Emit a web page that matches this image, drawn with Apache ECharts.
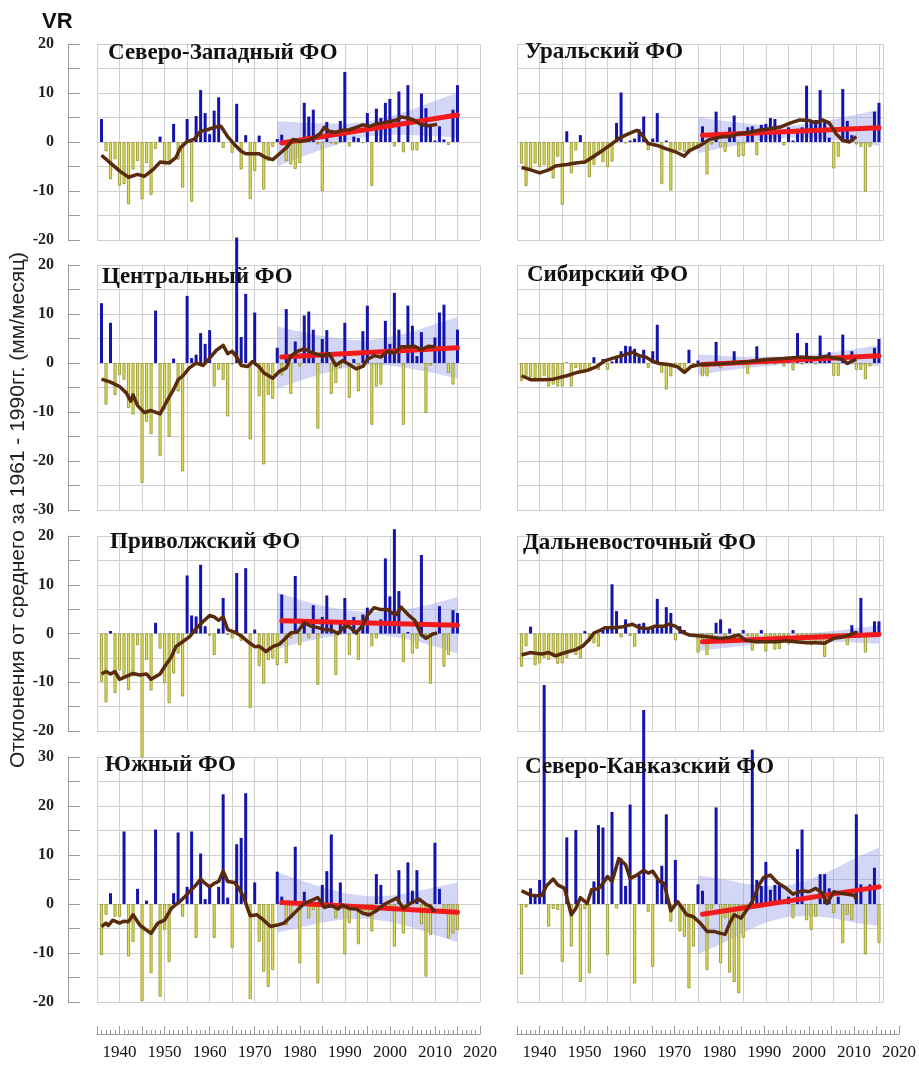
<!DOCTYPE html>
<html><head><meta charset="utf-8">
<script src="https://cdn.jsdelivr.net/npm/echarts@6/dist/echarts.min.js"></script>
<style>html,body{margin:0;padding:0;background:#fff}#c{width:919px;height:1068px}</style>
</head><body><div id="c"></div>
<script>
// Years 1936..2015
const years = [];
for (let y = 1936; y <= 2015; y++) years.push(y);
const bandYears = [1975, 1980, 1985, 1990, 1995, 2000, 2005, 2010, 2015];
const trendYears = [1976, 2015];

// ---- Северо-Западный ФО
const nwVals = [4.7,-1.9,-7.6,-3.5,-8.9,-8.6,-12.7,-5.6,-3.9,-11.7,-4.3,-10.8,-1.4,1.1,-4.6,-3.9,3.7,-3.6,-9.3,4.7,-12.2,5.3,10.6,5.9,1.6,6.4,9.1,-1.2,0,-2.2,7.8,-5.6,1.4,-11.6,-5.9,1.3,-9.7,-3.9,-1.0,0.6,1.5,-3.9,-4.6,-5.5,-4.3,8.0,5.2,6.6,-0.5,-10.0,4.1,-0.3,-0.5,4.3,14.3,-0.9,1.1,0.8,-0.2,5.9,-9.0,6.8,4.9,8.0,8.8,-0.9,10.3,-2.1,11.6,-1.7,-1.7,9.9,6.9,3.2,0.3,3.2,0.5,-0.6,6.6,11.6];
const nwMA = [[1936,-2.7],[1938,-4.3],[1940,-5.9],[1942,-7.2],[1944,-6.6],[1945.5,-7],[1947.5,-5.6],[1949,-4.1],[1951,-4.3],[1952.5,-3.2],[1953.5,-1.2],[1955,0.1],[1956.5,0.5],[1958,2.2],[1959.5,2.5],[1961,3.0],[1962.5,3.2],[1964,1.1],[1965.5,-0.5],[1967,-1.9],[1968,-2.4],[1970,-2.4],[1971,-2.4],[1972.5,-3.2],[1974,-3.6],[1975.5,-2.4],[1977,-1.2],[1978.5,0.5],[1980,0.1],[1981.5,0.3],[1983,0.8],[1984.5,1.7],[1985.5,3.0],[1986.5,2.2],[1988,2.0],[1989.5,2.4],[1991,2.5],[1992.5,3.0],[1994,3.5],[1995.5,3.2],[1997,3.7],[1998.5,3.9],[2000,4.2],[2001.5,4.5],[2002.5,5.1],[2004,4.9],[2005.5,4.4],[2007,3.5],[2008.5,3.3],[2010.5,3.6]];
const nwTrend = [-0.2, 5.5];
const nwBandLo = [-5.0,-3.2,-1.5,0.0,1.1,1.5,1.4,1.2,0.9];
const nwBandHi = [4.3,4.0,3.8,3.7,4.1,5.2,6.7,8.4,10.1];

// ---- Уральский ФО
const urVals = [-4.4,-9,-5.4,-4.4,-5.1,-4.7,-5.7,-7.4,-3,-12.8,2.2,-6.4,-1.7,1.4,-4.4,-7.2,-4.7,-2.7,-4.1,-5.1,-4.0,3.9,10.1,-0.3,0.3,0.7,2.6,5.2,-1.7,0.7,5.9,-8.6,0.3,-9.9,-2.0,-1.7,-2.0,-2.4,-1.0,-1.4,3.2,-6.6,-0.5,6.2,-1.0,-2.0,3.0,5.4,-3.0,-2.8,3.0,3.2,-2.7,3.5,3.7,4.9,4.7,2.4,-0.7,3.0,0.3,2.7,3.0,11.5,4.4,4.5,10.6,4.4,0.9,-5.4,-3.0,10.8,4.3,1.4,-0.5,-1.0,-10.1,-1.0,6.2,8.0];
const urMA = [[1936,-5.2],[1938,-5.7],[1940,-6.3],[1942,-5.7],[1943.5,-4.9],[1946,-4.6],[1948,-4.3],[1950,-4.1],[1951.5,-3.2],[1953.5,-2],[1955.5,-0.7],[1957.5,0.7],[1959,1.4],[1960.5,2.0],[1961.5,2.4],[1962.5,1.6],[1964,-0.3],[1966,-0.7],[1968,-1.4],[1970,-2.0],[1972,-2.9],[1973,-1.8],[1975.5,-0.7],[1977.5,0.5],[1980,1.0],[1982,1.1],[1984,1.7],[1986.5,2.0],[1988.5,2.4],[1991,2.7],[1993,3.0],[1995.5,3.9],[1997.5,4.5],[1999.5,4.4],[2001,3.9],[2002.5,4.5],[2004,3.9],[2005.5,1.7],[2007,0.3],[2008.5,0],[2010,1.1]];
const urTrend = [1.4, 2.9];
const urBandLo = [-2.3,-1.3,-0.4,0.5,0.9,0.8,0.4,-0.2,-0.8];
const urBandHi = [5.1,4.4,3.9,3.4,3.3,3.8,4.6,5.6,6.6];

// ---- Центральный ФО
const ceVals = [12.2,-8.5,8.2,-6.5,-2.4,-3.4,-9.2,-10.5,-8.5,-24.5,-12,-14.5,10.7,-19,-9.5,-15.1,0.9,-5.8,-22.1,13.7,1.0,1.7,6.1,3.9,6.7,-4.8,-1.4,-3.4,-10.9,-0.3,25.6,5.3,14.1,-15.6,10.3,-6.8,-20.7,-6.5,-7.3,3.1,-2.5,11.0,-6.3,4.4,-0.7,9.7,10.5,6.8,-13.4,4.9,6.7,-6.3,-4.1,-1.0,8.2,-7.1,0.8,-5.8,6.5,11.7,-12.6,-4.8,-4.4,8.6,3.9,14.3,6.8,-12.6,11.7,7.6,1.4,6.3,-10.2,-0.5,5.2,10.3,11.9,-2.0,-4.4,6.8];
const ceMA = [[1936,-3.3],[1938,-3.9],[1940,-4.8],[1941.5,-6.1],[1942.5,-7.8],[1943,-6.5],[1944,-8.7],[1945.5,-10.1],[1947,-9.7],[1949,-10.4],[1950.5,-7.8],[1952,-5.4],[1953,-3.4],[1954,-2.7],[1955.5,-1],[1957,0],[1958.5,-0.5],[1960,1],[1961.5,2.6],[1963,3.6],[1964,1.9],[1965,2.4],[1966,1.2],[1967,-0.5],[1968.5,-0.7],[1969.5,0.3],[1971,-0.8],[1972,-2],[1974,-3.1],[1975.5,-1.7],[1977,-1],[1978,1.4],[1979.5,2.4],[1981,2.9],[1982.5,2.2],[1984,1.7],[1985.5,1.5],[1986.5,1.9],[1988,-0.5],[1989.5,0.5],[1991,-0.3],[1992.5,-1.2],[1994,-0.7],[1995,0.7],[1996.5,1.5],[1998,1.2],[1999.5,2.4],[2001,2],[2002.5,3.3],[2004,3.3],[2005.5,3.4],[2007,2.7],[2008.5,3.4],[2010,3.3]];
const ceTrend = [1.2, 3.1];
const ceBandLo = [-5.2,-3.6,-2.2,-1.0,-0.4,-0.5,-1.2,-2.1,-3.2];
const ceBandHi = [7.5,6.4,5.5,4.8,4.6,5.3,6.4,7.9,9.4];

// ---- Сибирский ФО
const siVals = [-3.7,-2.6,-2.9,-3.1,-3.4,-2.7,-4.8,-4.4,-4.8,-4.8,0.1,-4.8,-1.0,-1.9,-2.0,-1.7,1.2,-1.4,0.8,-1.4,0.3,1.0,2.4,3.5,3.4,2.9,1.2,2.7,-1.0,2.4,7.8,-2.0,-5.4,-2.7,-0.5,-0.8,-1.5,2.7,-0.5,0.5,-2.7,-2.7,-0.5,4.3,-1.0,-0.3,-0.5,2.4,-0.3,-0.5,-2.2,0.3,3.4,0.2,-0.3,0.3,-0.3,0.4,-0.7,0.3,-1.5,6.1,-0.3,4.1,0.5,-0.3,5.6,0.4,2.2,-2.6,-2.6,5.8,-0.4,2.4,-1.4,-1.4,-3.3,-0.7,3.1,4.9];
const siMA = [[1936,-2.6],[1938,-3.4],[1940.5,-3.4],[1943,-3.3],[1946,-2.6],[1948,-2],[1950.5,-1.5],[1952.5,-0.8],[1954.5,0.5],[1957,1.2],[1959,1.7],[1960.5,2.2],[1962,1.5],[1963.5,1.2],[1965,0.3],[1966.5,-0.1],[1968.5,-0.3],[1970.5,-0.8],[1972,-1.9],[1973.5,-0.7],[1975.5,-0.3],[1979,-0.2],[1982.5,0],[1986.5,0.3],[1990,0.7],[1994,0.9],[1997.5,1.2],[2001,1],[2003.5,1.4],[2005,1],[2007,0.7],[2008,-0.1],[2010,0.8]];
const siTrend = [-0.3, 1.5];
const siBandLo = [-2.5,-1.7,-1.1,-0.6,-0.2,-0.1,-0.2,-0.3,-0.6];
const siBandHi = [1.8,1.5,1.3,1.3,1.4,1.7,2.2,2.9,3.6];

// ---- Приволжский ФО
const pvVals = [-9.9,-14.1,0.5,-12.2,-7.5,-9.2,-11.6,-8.8,-2.4,-25.4,-5.4,-11.7,2.2,-3.1,-10.2,-14.3,-8.2,-4.1,-12.9,11.9,3.7,3.5,14.1,1.5,-0.5,-4.4,1.0,7.3,-0.3,-1.0,12.4,-1.5,13.4,-15.3,0.8,-6.7,-10.3,-5.4,-5.1,-6.5,8.0,-6.1,-1.0,11.8,-2.4,2.7,-1.0,5.8,-10.5,3.4,7.8,2.7,-8.5,2.5,7.3,-4.4,3.4,-5.4,3.9,5.3,-2.6,-1.0,2.9,15.4,7.6,21.4,8.7,-5.8,0.3,-4.1,-3.1,16.1,-0.5,-10.3,-0.3,5.6,-6.8,-4.4,4.8,4.2];
const pvMA = [[1936,-8.3],[1937,-7.8],[1938,-8.3],[1939,-7.8],[1940,-9.4],[1941.5,-8.8],[1943,-8.2],[1944.5,-8.5],[1946,-8.3],[1947,-9.4],[1949,-8.3],[1950,-6.8],[1951.5,-4.8],[1952.5,-2.7],[1954,-1.7],[1955.5,-0.7],[1957,1],[1958.5,2.4],[1960,3.7],[1961,3.4],[1962,2.7],[1963,3.4],[1964,0.8],[1965.5,0.3],[1967,-0.5],[1968.5,-1.7],[1970,-2.7],[1971,-2.6],[1972.5,-3.7],[1974,-2.7],[1975.5,-2.2],[1977,-0.8],[1978,0.1],[1979.5,0.3],[1981,2.2],[1982.5,1.5],[1984,1.2],[1985.5,0.8],[1987,0.7],[1988.5,0],[1990,1.5],[1991,1.4],[1992.5,0.1],[1994,1.7],[1995,3.7],[1996.5,5.3],[1998,4.9],[1999.5,4.9],[2000.5,4.2],[2001.5,3.9],[2002.5,5.4],[2004,3.9],[2005.5,2.7],[2007,-0.3],[2008,-1],[2009.5,-0.1],[2010.5,0.1]];
const pvTrend = [2.6, 1.7];
const pvBandLo = [-3.2,-1.9,-0.9,-0.2,0.0,-0.5,-1.4,-2.6,-4.1];
const pvBandHi = [8.4,6.9,5.7,4.8,4.4,4.6,5.2,6.2,7.5];

// ---- Дальневосточный ФО
const feVals = [-6.8,-2.6,1.4,-6.5,-6.1,-5.0,-5.4,-4.8,-6.2,-6.1,-5.0,-3.5,-4.4,-5.1,0.5,-1.7,-2.0,-2.7,1.0,1.4,10.1,4.6,-0.8,2.9,-0.5,-2.7,2.0,2.2,1.0,1.4,7.1,1.4,5.4,4.2,-1.4,1.5,0.7,-0.3,-0.5,-3.9,-2.0,-4.4,-1.4,2.2,2.9,-2.0,1.0,-1.0,-1.4,0.7,-0.5,-3.5,-1.5,0.7,-3.7,-1.5,-3.3,-3.2,-0.5,-2.2,0.7,-2.0,-1.4,-1.4,-2.4,-1.5,-2.0,-4.8,-0.5,-0.7,-0.7,-1.0,-2.4,1.7,0.5,7.3,-3.9,-0.5,2.5,2.5];
const feMA = [[1936,-4.4],[1938,-3.9],[1939.5,-4.1],[1940.5,-4.2],[1942,-3.9],[1943.5,-4.6],[1945,-4.1],[1946.5,-3.7],[1948,-3.3],[1949.5,-2.6],[1951,-1.2],[1952,0.1],[1953.5,0.7],[1954.5,1.2],[1956.5,1.2],[1958.5,1.4],[1960.5,1.9],[1962,1.2],[1964,1],[1965.5,1.5],[1967.5,1.5],[1968.5,1.9],[1970,1.5],[1971.5,0.3],[1973,-0.3],[1975.5,-0.5],[1977.5,-0.7],[1980,-1],[1982,-0.8],[1984,-0.3],[1985.5,-1.4],[1988,-1.7],[1990,-1.7],[1992.5,-1.7],[1994.5,-1.5],[1996.5,-1.7],[1999,-1.9],[2001,-1.9],[2003,-2],[2005,-1],[2007,-0.7],[2008.5,-0.3],[2010,0.3]];
const feTrend = [-1.7, -0.2];
const feBandLo = [-3.6,-3.1,-2.5,-2.0,-1.7,-1.6,-1.7,-1.9,-2.1];
const feBandHi = [0.2,-0.1,-0.2,-0.3,-0.3,0.1,0.5,1.1,1.7];

// ---- Южный ФО
const soVals = [-10.4,-2.2,2.2,-2.6,-2.6,14.8,-10.7,-7.7,3.1,-19.8,0.7,-14.1,15.2,-18.9,-5.3,-11.8,2.2,14.6,-2.6,3.5,14.8,-6.9,10.3,1.0,3.5,-6.9,3.5,22.4,1.3,-9.0,12.2,13.5,22.6,-19.4,4.4,-7.7,-13.8,-16.9,-13.5,6.6,1.5,-4.3,-2.9,11.7,-12.1,2.5,-2.9,-1.2,-16.2,3.9,6.7,14.2,-2.9,4.4,-10.3,-3.9,-1.0,-8.2,-1.6,-2.6,-5.6,6.1,3.9,-1.0,-0.5,-8.7,6.9,-6.0,8.5,2.7,6.9,-4.1,-14.8,-6.3,12.5,3.1,-2.0,-7.0,-6.0,-5.3];
const soMA = [[1936,-4.6],[1937,-3.9],[1937.5,-4.4],[1938.5,-3.3],[1940,-3.9],[1941,-3.5],[1942,-3.6],[1943,-2.2],[1944.5,-4.3],[1945.5,-5],[1947,-6],[1948.5,-3.9],[1950,-3.3],[1951.5,-0.9],[1952.5,-0.1],[1953.5,0.6],[1954.5,1.5],[1955.5,2.5],[1957,3.9],[1958,5.1],[1959,4.2],[1960,3.5],[1961,4.2],[1962,4.6],[1963,6.7],[1964,4.6],[1965.5,4.4],[1966.5,3.2],[1967.5,1.5],[1969,-2.4],[1970.5,-2.2],[1972,-3.3],[1973.5,-4.6],[1975,-4.3],[1976.5,-3.9],[1978,-2.6],[1979.5,-1.2],[1981,0.1],[1982.5,0.7],[1984,1.3],[1985.5,-0.7],[1987,-0.3],[1988.5,-1],[1989.5,-0.2],[1991,-0.9],[1992.5,-1],[1994,-1.9],[1995.5,-2.2],[1997,-1.4],[1998.5,-0.2],[2000,0.5],[2001.5,1.2],[2003,-0.9],[2004.5,0.1],[2006.5,1],[2008,-0.1],[2009,-0.5],[2010,-1.6]];
const soTrend = [0.3, -1.7];
const soBandLo = [-5.8,-4.8,-3.8,-3.1,-3.0,-3.6,-4.8,-6.3,-7.8];
const soBandHi = [6.5,4.9,3.4,2.2,1.6,1.7,2.4,3.4,4.4];

// ---- Северо-Кавказский ФО
const ncVals = [-14.4,-0.7,3.2,2.0,4.9,44.7,-4.6,-1.0,-1.2,-11.8,13.6,-8.7,15.1,-15.9,-1.0,-14.1,4.6,16.1,15.6,-10.4,18.8,-0.9,9.3,3.7,20.3,-16.2,5.9,39.6,-1.6,-12.8,4.9,7.8,18.3,-3.6,9.0,-5.6,-6.7,-17.2,-8.7,4.0,2.7,-13.5,-1.0,19.7,-12.1,-2.9,-14.0,-15.9,-18.2,-6.9,-1.0,31.5,4.9,3.7,8.6,2.9,3.9,4.0,0.5,1.5,-2.9,11.2,15.2,-3.3,-5.3,-2.6,6.1,6.1,3.2,-1.9,1.5,-8.0,-2.2,-3.3,18.3,4.0,-10.3,4.0,7.4,-8.0];
const ncMA = [[1936,2.7],[1938,1.8],[1939.5,1.7],[1940.5,1.8],[1941.5,3.7],[1943,5.1],[1944,3.9],[1945.5,3.2],[1947,-2.2],[1948,-0.9],[1949,1.3],[1950.5,0.1],[1951.5,2.9],[1953,3.1],[1954,4.2],[1955,5.6],[1956,4.6],[1957.5,9.3],[1959,8],[1960,5.2],[1961.5,5.9],[1963,6.9],[1964,6.3],[1965,6.7],[1966.5,4.6],[1967.5,4.2],[1969,-1.4],[1970.5,0.5],[1972.5,-2.2],[1974,-2.6],[1975.5,-3.9],[1977,-5.6],[1978.5,-5.6],[1980,-6],[1981,-6.2],[1982,-3.9],[1983,-2.2],[1984.5,-2.9],[1986,-0.9],[1987,0.5],[1988.5,3.9],[1989.5,5.4],[1991,5.9],[1992.5,4.4],[1994.5,3.2],[1996,2],[1998,2.7],[1999.5,2.5],[2001,3.2],[2002.5,2.2],[2003.5,0.1],[2005,2.5],[2006.5,2.2],[2008,2],[2009.5,1.8],[2010,1]];
const ncTrend = [-2.1, 3.5];
const ncBandLo = [-10.2,-8.2,-5.8,-3.8,-2.6,-2.4,-2.9,-3.9,-4.5];
const ncBandHi = [5.8,5.2,4.2,3.6,3.8,5.1,7.1,9.5,11.5];

// Texts
const titles = ['Северо-Западный ФО','Уральский ФО','Центральный ФО','Сибирский ФО','Приволжский ФО','Дальневосточный ФО','Южный ФО','Северо-Кавказский ФО'];
const yTitle = 'Отклонения от среднего за 1961 - 1990гг. (мм/месяц)';

// ---- layout (positions only)
const colGeom = [{left: 97, width: 383, xMax: 2020}, {left: 517, width: 366.5, xMax: 2016}];
const rowGeom = [
  {top: 44, height: 196, min: -20, max: 20},
  {top: 265, height: 245, min: -30, max: 20},
  {top: 536, height: 195, min: -20, max: 20},
  {top: 757, height: 245, min: -20, max: 30}
];
const titlePos = [[108,42],[525,41],[102,266],[527,264],[110,531],[523,532],[105,754],[525,756]];

const panels = [
  {vals: nwVals, ma: nwMA, trend: nwTrend, lo: nwBandLo, hi: nwBandHi},
  {vals: urVals, ma: urMA, trend: urTrend, lo: urBandLo, hi: urBandHi},
  {vals: ceVals, ma: ceMA, trend: ceTrend, lo: ceBandLo, hi: ceBandHi},
  {vals: siVals, ma: siMA, trend: siTrend, lo: siBandLo, hi: siBandHi},
  {vals: pvVals, ma: pvMA, trend: pvTrend, lo: pvBandLo, hi: pvBandHi},
  {vals: feVals, ma: feMA, trend: feTrend, lo: feBandLo, hi: feBandHi},
  {vals: soVals, ma: soMA, trend: soTrend, lo: soBandLo, hi: soBandHi},
  {vals: ncVals, ma: ncMA, trend: ncTrend, lo: ncBandLo, hi: ncBandHi}
];

const GRID_COLOR = '#cfcfcf';
const AXIS_COLOR = '#9a9a9a';
const grids = [], xAxes = [], yAxes = [], series = [], graphics = [];

function yearLabel(v) { return v % 10 === 0 ? String(v) : ''; }

panels.forEach(function (p, i) {
  const row = Math.floor(i / 2), col = i % 2;
  const rg = rowGeom[row], cg = colGeom[col];
  grids.push({left: cg.left, width: cg.width, top: rg.top, height: rg.height, containLabel: false});
  const showX = row === 3 && col === 0;
  xAxes.push({
    gridIndex: i, type: 'value', min: 1935, max: cg.xMax, interval: 5,
    offset: showX ? 32 : 0,
    axisLine: {show: showX, onZero: false, lineStyle: {color: AXIS_COLOR, width: 1}},
    axisTick: {show: showX, inside: true, length: 8, lineStyle: {color: AXIS_COLOR}},
    minorTick: {show: showX, splitNumber: 5, length: 4, lineStyle: {color: AXIS_COLOR}},
    axisLabel: {show: showX, margin: 10, color: '#111', fontFamily: 'Liberation Serif', fontSize: 17, formatter: yearLabel},
    splitLine: {show: true, lineStyle: {color: GRID_COLOR, width: 1}}
  });
  const leftCol = col === 0;
  yAxes.push({
    gridIndex: i, type: 'value', min: rg.min, max: rg.max, interval: 5,
    offset: leftCol ? 29 : 0,
    axisLine: {show: leftCol, onZero: false, lineStyle: {color: AXIS_COLOR, width: 1}},
    axisTick: {show: leftCol, inside: true, length: 12, lineStyle: {color: AXIS_COLOR}},
    axisLabel: {show: leftCol, margin: 14, color: '#222', fontFamily: 'Liberation Serif', fontWeight: 'bold', fontSize: 16,
      formatter: function (v) { return v % 10 === 0 ? String(v) : ''; }},
    splitLine: {show: true, lineStyle: {color: GRID_COLOR, width: 1}}
  });

  // confidence band
  const lo = p.lo, hi = p.hi;
  series.push({
    type: 'custom', xAxisIndex: i, yAxisIndex: i, z: 1, silent: true,
    data: bandYears.map(function (y, k) { return [y, lo[k], hi[k]]; }),
    encode: {x: 0, y: [1, 2]},
    renderItem: function (params, api) {
      if (params.dataIndex !== 0) return null;
      const top = bandYears.map(function (y, k) { return api.coord([y, hi[k]]); });
      const bot = bandYears.map(function (y, k) { return api.coord([y, lo[k]]); }).reverse();
      return {type: 'polygon', shape: {points: top.concat(bot)},
        style: {fill: 'rgba(150,158,232,0.42)'}};
    }
  });
  // bars
  series.push({
    type: 'bar', xAxisIndex: i, yAxisIndex: i, z: 2, clip: false, barWidth: 3, barGap: '-100%',
    silent: true,
    itemStyle: {color: '#1414ac'},
    data: years.map(function (y, k) { return [y, p.vals[k] >= 0 ? p.vals[k] : '-']; })
  });
  series.push({
    type: 'bar', xAxisIndex: i, yAxisIndex: i, z: 2, clip: false, barWidth: 3, barGap: '-100%',
    silent: true,
    itemStyle: {color: '#e2e25a', borderColor: '#8c8c2a', borderWidth: 0.8},
    data: years.map(function (y, k) { return [y, p.vals[k] < 0 ? p.vals[k] : '-']; })
  });
  // linear trend
  series.push({
    type: 'line', xAxisIndex: i, yAxisIndex: i, z: 3, silent: true, showSymbol: false,
    lineStyle: {color: '#f21a1a', width: 5, cap: 'round'},
    data: trendYears.map(function (y, k) { return [y, p.trend[k]]; })
  });
  // moving average
  series.push({
    type: 'line', xAxisIndex: i, yAxisIndex: i, z: 4, silent: true, showSymbol: false,
    lineStyle: {color: '#5a2a0c', width: 3.5, join: 'round'},
    data: p.ma
  });

  graphics.push({type: 'text', left: titlePos[i][0], top: titlePos[i][1], z: 100,
    style: {text: titles[i], fill: '#111', font: 'bold 23px "Liberation Serif", "Times New Roman", serif'}});
});

// extra grid carrying the right column's bottom year axis (to 2020)
grids.push({left: 517, width: 385, top: 757, height: 245});
xAxes.push({
  gridIndex: 8, type: 'value', min: 1935, max: 2020, interval: 5, offset: 32,
  axisLine: {show: true, onZero: false, lineStyle: {color: AXIS_COLOR, width: 1}},
  axisTick: {show: true, inside: true, length: 8, lineStyle: {color: AXIS_COLOR}},
  minorTick: {show: true, splitNumber: 5, length: 4, lineStyle: {color: AXIS_COLOR}},
  axisLabel: {show: true, margin: 10, color: '#111', fontFamily: 'Liberation Serif', fontSize: 17, formatter: yearLabel},
  splitLine: {show: false}
});
yAxes.push({gridIndex: 8, type: 'value', min: -20, max: 30, show: false});

graphics.push({type: 'text', left: 42, top: 11, z: 100,
  style: {text: 'VR', fill: '#111', font: 'bold 22px "Liberation Sans", Arial, sans-serif'}});
graphics.push({type: 'text', x: 18, y: 510, rotation: Math.PI / 2, z: 100,
  style: {text: yTitle, fill: '#222', font: '21px "Liberation Sans", Arial, sans-serif', align: 'center', verticalAlign: 'middle'}});

const chart = echarts.init(document.getElementById('c'), null, {renderer: 'canvas'});
chart.setOption({
  animation: false,
  backgroundColor: '#ffffff',
  grid: grids, xAxis: xAxes, yAxis: yAxes, series: series, graphic: graphics
});
</script></body></html>
